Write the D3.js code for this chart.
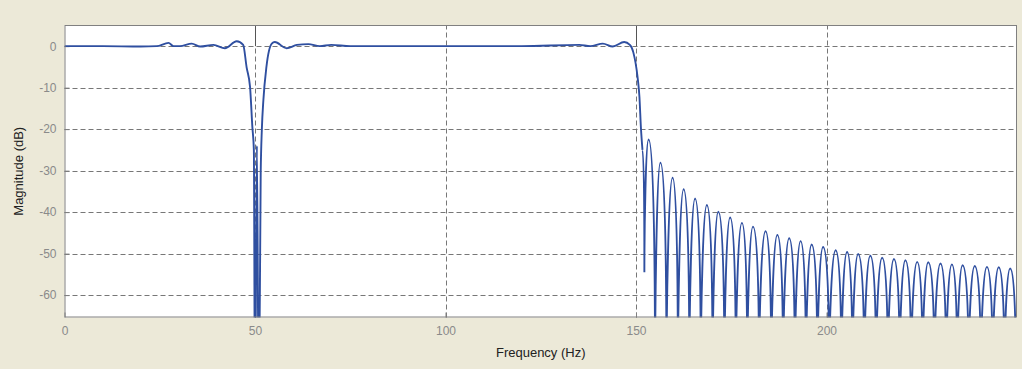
<!DOCTYPE html>
<html>
<head>
<meta charset="utf-8">
<script src="https://cdn.jsdelivr.net/npm/d3@7"></script>
<style>
	body { margin: 0; background: #ECE9D8; }
	svg { display: block; font-family: "Liberation Sans", Arial, sans-serif; }
	.tick text { fill: #8a8a8a; font-size: 12px; }
	.axis path { display: none; }
	.axis line { stroke: #808080; }
</style>
</head>
<body>
<div id="chart"></div>
<script>
// passband + 50 Hz notch + transition edge (Hz / dB)
var passHz = [0, 10, 20, 24.2, 27.3, 28.6, 30.3, 33.4, 35.6, 39.1, 42.1, 45.2, 46.9, 47.8, 48.7, 49.3, 49.7, 50.0, 50.5, 51.0,
	51.5, 51.8, 52.2, 53.0, 54.4, 55.2, 58.3, 61, 64, 67, 70, 75, 80, 100, 120, 135.1, 138, 141.3, 143.9, 146.9,
	148.4, 149.3, 150.4, 150.9, 151.3, 151.7];
var passDb = [0, 0, -0.1, 0, 0.8, 0, 0, 0.6, -0.1, 0.3, -0.5, 1.2, 0.3, -5.1, -9.8, -19.4, -25, -90, -24, -90,
	-30.6, -20, -13, -5, 0.6, 1.0, -0.5, 0.3, 0.5, 0, 0.3, 0, 0, 0, 0, 0.3, 0, 0.6, -0.1, 1.0,
	0.3, -1.5, -7.4, -12.2, -19.8, -25];

// stopband sidelobes
var nullHz = [152.2, 155.0, 158.0, 161.0, 164.0, 167.0, 170.1, 173.2, 176.2, 179.2, 182.3, 185.5, 188.6, 191.7, 194.6, 197.6, 200.7,
	203.9, 206.8, 209.9, 213.0, 216.1, 219.2, 222.2, 225.2, 228.3, 231.4, 234.3, 237.3, 240.5, 243.6, 246.7, 249.7];
var nullDb = [-54.5, -80, -80, -80, -80, -80, -80, -80, -80, -80, -80, -80, -80, -80, -80, -80, -80,
	-80, -80, -80, -80, -80, -80, -80, -80, -80, -80, -80, -80, -80, -80, -80, -80];
var peakHz = [153.3, 156.4, 159.6, 162.5, 165.5, 168.6, 171.6, 174.7, 177.8, 180.7, 184.0, 187.1, 190.2, 193.2, 196.1, 199.1,
	202.4, 205.4, 208.3, 211.5, 214.6, 217.7, 220.7, 223.8, 226.7, 229.9, 232.9, 235.7, 238.9, 242.1, 245.2, 248.2];
var peakDb = [-22.5, -28.1, -31.7, -34.5, -36.7, -38.3, -39.9, -41.3, -42.6, -43.5, -44.6, -45.5, -46.3, -47.0, -47.8, -48.4,
	-49.2, -49.6, -50.1, -50.5, -51.0, -51.3, -51.6, -52.0, -52.1, -52.4, -52.6, -52.8, -53.0, -53.2, -53.3, -53.6];

var xTicks = [0, 50, 100, 150, 200];
var yTicks = [0, -10, -20, -30, -40, -50, -60];
var markerHz = [50, 150];

var W = 1022, H = 369;
var plot = {left: 64.5, right: 1017, top: 25, bottom: 317.5};

var svg = d3.select("#chart")
	.append("svg")
	.attr("width", W)
	.attr("height", H);

var x = d3.scaleLinear().domain([0, 250]).range([plot.left, plot.right]);
var y = d3.scaleLinear().domain([-65.4, 5.1]).range([plot.bottom, plot.top]);

svg.append("rect")
	.attr("x", plot.left).attr("y", plot.top)
	.attr("width", plot.right - plot.left).attr("height", plot.bottom - plot.top)
	.attr("fill", "#fff");

svg.append("clipPath").attr("id", "clip")
	.append("rect")
	.attr("x", plot.left).attr("y", plot.top)
	.attr("width", plot.right - plot.left).attr("height", plot.bottom - plot.top);

// grid
var grid = svg.append("g").attr("stroke", "#777").attr("stroke-dasharray", "5,3").attr("stroke-width", 1);
grid.selectAll(".gx").data(xTicks.filter(function(d){ return d > 0; })).enter()
	.append("line")
	.attr("x1", function(d){ return Math.round(x(d)) + 0.5; })
	.attr("x2", function(d){ return Math.round(x(d)) + 0.5; })
	.attr("y1", plot.bottom).attr("y2", plot.top);
grid.selectAll(".gy").data(yTicks).enter()
	.append("line")
	.attr("y1", function(d){ return Math.round(y(d)) + 0.5; })
	.attr("y2", function(d){ return Math.round(y(d)) + 0.5; })
	.attr("x1", plot.left).attr("x2", plot.right);

// solid marks above 0 dB at the band edges
svg.selectAll(".mk").data(markerHz).enter()
	.append("line")
	.attr("x1", function(d){ return Math.round(x(d)) + 0.5; })
	.attr("x2", function(d){ return Math.round(x(d)) + 0.5; })
	.attr("y1", plot.top).attr("y2", y(0))
	.attr("stroke", "#555");

// axes
svg.append("g")
	.attr("class", "axis")
	.attr("transform", "translate(0," + plot.bottom + ")")
	.call(d3.axisBottom(x).tickValues(xTicks).tickSize(-5).tickPadding(9).tickFormat(function(d){ return String(d); }));
svg.append("g")
	.attr("class", "axis")
	.attr("transform", "translate(" + plot.left + ",0)")
	.call(d3.axisLeft(y).tickValues(yTicks).tickSize(-5).tickPadding(8).tickFormat(function(d){ return String(d); }));

// lobe curve: flat round tops, vertical into the nulls
function curveLobe(context) { return new Lobe(context); }
function Lobe(context) { this._context = context; }
Lobe.prototype = {
	areaStart: function() { this._line = 0; },
	areaEnd: function() { this._line = NaN; },
	lineStart: function() { this._point = 0; },
	lineEnd: function() { this._line = 1 - this._line; },
	point: function(px, py) {
		px = +px; py = +py;
		if (this._point === 0) {
			this._point = 1;
			this._line ? this._context.lineTo(px, py) : this._context.moveTo(px, py);
		} else {
			var x0 = this._x0, y0 = this._y0, dx = px - x0;
			if (py > y0) {
				this._context.bezierCurveTo(x0 + dx * 0.65, y0, px, y0 + (py - y0) * 0.35, px, py);
			} else {
				this._context.bezierCurveTo(x0, y0 + (py - y0) * 0.35, px - dx * 0.65, py, px, py);
			}
		}
		this._x0 = px; this._y0 = py;
	}
};

var passData = passHz.map(function(f, i){ return [f, passDb[i]]; });
var stopData = [[passHz[passHz.length - 1], passDb[passDb.length - 1]]];
for (var i = 0; i < nullHz.length; i++) {
	stopData.push([nullHz[i], nullDb[i]]);
	if (i < peakHz.length) stopData.push([peakHz[i], peakDb[i]]);
}

var lines = svg.append("g").attr("clip-path", "url(#clip)");
lines.append("path")
	.datum(passData)
	.attr("fill", "none")
	.attr("stroke", "#2f4fa0")
	.attr("stroke-width", 1.9)
	.attr("d", d3.line().x(function(d){ return x(d[0]); }).y(function(d){ return y(d[1]); }).curve(d3.curveMonotoneX));
lines.append("path")
	.datum(stopData)
	.attr("fill", "none")
	.attr("stroke", "#2f4fa0")
	.attr("stroke-width", 1.9)
	.attr("d", d3.line().x(function(d){ return x(d[0]); }).y(function(d){ return y(d[1]); }).curve(curveLobe));

// frame
svg.append("rect")
	.attr("x", plot.left + 0.5).attr("y", plot.top + 0.5)
	.attr("width", plot.right - plot.left - 1).attr("height", plot.bottom - plot.top - 1)
	.attr("fill", "none")
	.attr("stroke", "#808080");

svg.append("text")
	.attr("x", (plot.left + plot.right) / 2)
	.attr("y", 357)
	.attr("text-anchor", "middle")
	.attr("fill", "#222")
	.style("font-size", "13px")
	.text("Frequency (Hz)");
svg.append("text")
	.attr("transform", "translate(23," + (plot.top + plot.bottom) / 2 + ") rotate(-90)")
	.attr("text-anchor", "middle")
	.attr("fill", "#222")
	.style("font-size", "13px")
	.text("Magnitude (dB)");
</script>
</body>
</html>
